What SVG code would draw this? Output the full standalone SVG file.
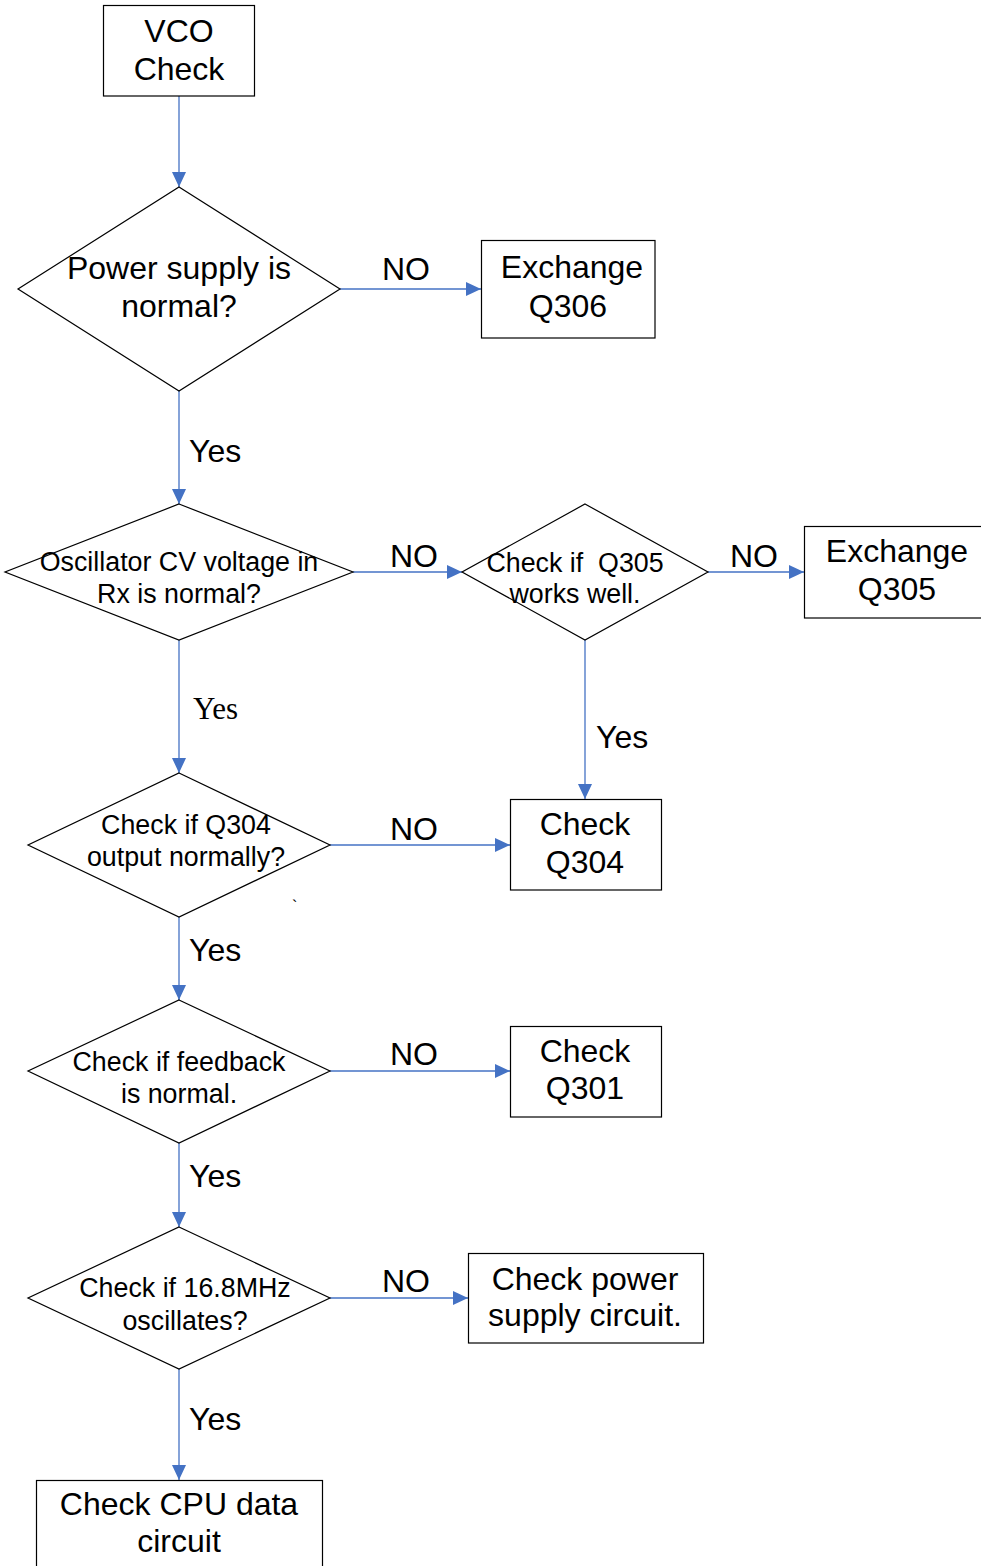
<svg xmlns="http://www.w3.org/2000/svg" width="981" height="1566" viewBox="0 0 981 1566">
<defs>
<marker id="arr" markerUnits="userSpaceOnUse" markerWidth="16" markerHeight="14" refX="15" refY="7" orient="auto">
<path d="M0,0 L15,7 L0,14 Z" fill="#4472C4"/>
</marker>
<style>
.n{fill:#fff;stroke:#000;stroke-width:1.2}
.t{font-family:"Liberation Sans",Arial,sans-serif;fill:#000;text-anchor:middle}
.big{font-size:32px}
.sm{font-size:26.8px}
.lbl{font-family:"Liberation Sans",Arial,sans-serif;font-size:32px;fill:#000}
.c{stroke:#4472C4;stroke-width:1.3;fill:none;marker-end:url(#arr)}
</style>
</defs>
<rect width="981" height="1566" fill="#fff"/>
<g id="connectors">
<line class="c" x1="179" y1="96" x2="179" y2="187"/>
<line class="c" x1="340" y1="289" x2="481" y2="289"/>
<line class="c" x1="179" y1="391" x2="179" y2="504"/>
<line class="c" x1="353" y1="572" x2="462" y2="572"/>
<line class="c" x1="708" y1="572" x2="804" y2="572"/>
<line class="c" x1="585" y1="640" x2="585" y2="799"/>
<line class="c" x1="179" y1="640" x2="179" y2="773"/>
<line class="c" x1="330" y1="845" x2="510" y2="845"/>
<line class="c" x1="179" y1="917" x2="179" y2="1000"/>
<line class="c" x1="330" y1="1071" x2="510" y2="1071"/>
<line class="c" x1="179" y1="1143" x2="179" y2="1227"/>
<line class="c" x1="330" y1="1298" x2="468" y2="1298"/>
<line class="c" x1="179" y1="1369" x2="179" y2="1480"/>
<text class="lbl" x="382" y="280">NO</text>
<text class="lbl" x="189" y="462">Yes</text>
<text class="lbl" x="390" y="567">NO</text>
<text class="lbl" x="730" y="567">NO</text>
<text x="193" y="719" style="font-family:'Liberation Serif','Times New Roman',serif;font-size:31px;fill:#000">Yes</text>
<text class="lbl" x="596" y="748">Yes</text>
<text class="lbl" x="390" y="840">NO</text>
<text class="lbl" x="189" y="961">Yes</text>
<text class="lbl" x="390" y="1065">NO</text>
<text class="lbl" x="189" y="1187">Yes</text>
<text class="lbl" x="382" y="1292">NO</text>
<text class="lbl" x="189" y="1430">Yes</text>
<text x="292" y="912" style="font-family:'Liberation Sans',Arial,sans-serif;font-size:16px;fill:#000">`</text>
</g>
<g id="vco">
<rect class="n" x="103.5" y="5.5" width="151" height="90.5"/>
<text class="t big" x="179" y="42">VCO</text>
<text class="t big" x="179" y="80">Check</text>
</g>
<g id="power">
<polygon class="n" points="179,187 340,289 179,391 18,289"/>
<text class="t big" x="179" y="279">Power supply is</text>
<text class="t big" x="179" y="317">normal?</text>
</g>
<g id="exq306">
<rect class="n" x="481.5" y="240.5" width="173.5" height="97.5"/>
<text class="t big" x="572" y="278">Exchange</text>
<text class="t big" x="568" y="317">Q306</text>
</g>
<g id="osc">
<polygon class="n" points="179,504 353,572 179,640 5,572"/>
<text class="t sm" x="179" y="571">Oscillator CV voltage in</text>
<text class="t sm" x="179" y="603">Rx is normal?</text>
</g>
<g id="q305chk">
<polygon class="n" points="585,504 708,572 585,640 462,572"/>
<text class="t sm" x="575" y="572" xml:space="preserve">Check if  Q305</text>
<text class="t sm" x="575" y="603">works well.</text>
</g>
<g id="exq305">
<rect class="n" x="804.5" y="526.5" width="180" height="91.5"/>
<text class="t big" x="897" y="562">Exchange</text>
<text class="t big" x="897" y="600">Q305</text>
</g>
<g id="q304out">
<polygon class="n" points="179,773 330,845 179,917 28,845"/>
<text class="t sm" x="186" y="834">Check if Q304</text>
<text class="t sm" x="186" y="866">output normally?</text>
</g>
<g id="chkq304">
<rect class="n" x="510.5" y="799.5" width="151" height="90.5"/>
<text class="t big" x="585" y="835">Check</text>
<text class="t big" x="585" y="873">Q304</text>
</g>
<g id="feedback">
<polygon class="n" points="179,1000 330,1071 179,1143 28,1071"/>
<text class="t sm" x="179" y="1071">Check if feedback</text>
<text class="t sm" x="179" y="1103">is normal.</text>
</g>
<g id="chkq301">
<rect class="n" x="510.5" y="1026.5" width="151" height="90.5"/>
<text class="t big" x="585" y="1062">Check</text>
<text class="t big" x="585" y="1099">Q301</text>
</g>
<g id="osc168">
<polygon class="n" points="179,1227 330,1298 179,1369 28,1298"/>
<text class="t sm" x="185" y="1297">Check if 16.8MHz</text>
<text class="t sm" x="185" y="1330">oscillates?</text>
</g>
<g id="chkpower">
<rect class="n" x="468.5" y="1253.5" width="235" height="89.5"/>
<text class="t big" x="585" y="1290">Check power</text>
<text class="t big" x="585" y="1326">supply circuit.</text>
</g>
<g id="cpu">
<rect class="n" x="36.5" y="1480.5" width="286" height="100"/>
<text class="t big" x="179" y="1515">Check CPU data</text>
<text class="t big" x="179" y="1552">circuit</text>
</g>
</svg>
